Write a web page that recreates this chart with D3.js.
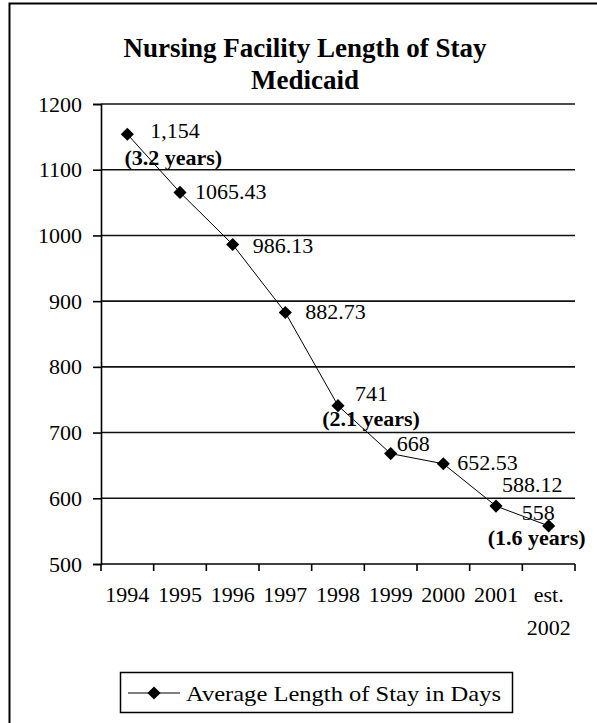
<!DOCTYPE html>
<html>
<head>
<meta charset="utf-8">
<script src="https://cdn.jsdelivr.net/npm/d3@7"></script>
<style>
  body { margin: 0; background: #fff; }
  svg { display: block; }
  svg text { font-family: "Liberation Serif", "DejaVu Serif", serif; fill: #000; }
</style>
</head>
<body>
<svg width="597" height="723"></svg>
<script>
// chart data
var years = ["1994", "1995", "1996", "1997", "1998", "1999", "2000", "2001", "est.\n2002"];
var stay = [1154, 1065.43, 986.13, 882.73, 741, 668, 652.53, 588.12, 558];
var valueLabels = ["1,154", "1065.43", "986.13", "882.73", "741", "668", "652.53", "588.12", "558"];
var yearNotes = [{ i: 0, text: "(3.2 years)" }, { i: 4, text: "(2.1 years)" }, { i: 8, text: "(1.6 years)" }];
var yTicks = [500, 600, 700, 800, 900, 1000, 1100, 1200];

var svg = d3.select("svg");

// frame (only left and top show in the crop)
svg.append("rect")
	.attr("x", 9.5).attr("y", 3.5)
	.attr("width", 700).attr("height", 800)
	.attr("fill", "none").attr("stroke", "#000").attr("stroke-width", 2);

// title
var title = svg.append("text")
	.attr("text-anchor", "middle")
	.attr("font-weight", "bold")
	.attr("font-size", 27);
title.append("tspan").attr("x", 305).attr("y", 57).text("Nursing Facility Length of Stay");
title.append("tspan").attr("x", 305).attr("y", 89).text("Medicaid");

var x = d3.scaleBand().domain(years).range([101, 575]);
var y = d3.scaleLinear().domain([500, 1200]).range([564, 104]);

// gridlines
svg.append("g")
	.selectAll("line")
	.data(yTicks.slice(1))
	.enter().append("line")
	.attr("x1", 101).attr("x2", 575)
	.attr("y1", function(d) { return y(d); })
	.attr("y2", function(d) { return y(d); })
	.attr("stroke", "#111").attr("stroke-width", 1.6);

// y axis
var yAxis = svg.append("g")
	.attr("transform", "translate(101,0)")
	.call(d3.axisLeft(y).tickValues(yTicks).tickSize(8).tickPadding(11).tickFormat(d3.format("d")));
yAxis.selectAll("text").attr("font-size", 22);
yAxis.selectAll("line").attr("stroke", "#000").attr("stroke-width", 1.6);
yAxis.select(".domain").attr("stroke", "#000").attr("stroke-width", 1.6);

// x axis, ticks on category boundaries
var xg = svg.append("g").attr("transform", "translate(0,564)");
xg.append("line").attr("x1", 101).attr("x2", 575)
	.attr("stroke", "#000").attr("stroke-width", 1.6);
var bounds = years.map(function(d) { return x(d); }).concat([x.range()[1]]);
xg.selectAll("line.tk")
	.data(bounds)
	.enter().append("line")
	.attr("class", "tk")
	.attr("x1", function(d) { return d; }).attr("x2", function(d) { return d; })
	.attr("y1", 0).attr("y2", 7)
	.attr("stroke", "#000").attr("stroke-width", 1.6);

xg.selectAll("text")
	.data(years)
	.enter().append("text")
	.attr("text-anchor", "middle")
	.attr("font-size", 22)
	.each(function(d) {
		var parts = d.split("\n");
		var t = d3.select(this);
		parts.forEach(function(p, k) {
			t.append("tspan")
				.attr("x", x(d) + x.bandwidth() / 2)
				.attr("y", 38 + k * 33)
				.text(p);
		});
	});

// series line
var cx = function(d, i) { return x(years[i]) + x.bandwidth() / 2; };
var line = d3.line()
	.x(function(d, i) { return cx(d, i); })
	.y(function(d) { return y(d); });

svg.append("path")
	.datum(stay)
	.attr("d", line)
	.attr("fill", "none")
	.attr("stroke", "#000")
	.attr("stroke-width", 1);

var diamond = d3.symbol().type(d3.symbolDiamond2).size(110);

svg.append("g")
	.selectAll("path")
	.data(stay)
	.enter().append("path")
	.attr("d", diamond)
	.attr("transform", function(d, i) { return "translate(" + cx(d, i) + "," + y(d) + ")"; })
	.attr("fill", "#000");

// value labels
var labelOffset = [[23, 4], [15, 7], [20, 8], [20, 7], [17, -5], [6, -3], [14, 6], [6, -14], [-27, -6]];
svg.append("g")
	.selectAll("text")
	.data(stay)
	.enter().append("text")
	.attr("font-size", 22)
	.attr("x", function(d, i) { return cx(d, i) + labelOffset[i][0]; })
	.attr("y", function(d, i) { return y(d) + labelOffset[i][1]; })
	.text(function(d, i) { return valueLabels[i]; });

// year-equivalent notes
var noteOffset = { 0: 31, 4: 20, 8: 19 };
svg.append("g")
	.selectAll("text")
	.data(yearNotes)
	.enter().append("text")
	.attr("text-anchor", "middle")
	.attr("font-size", 22).attr("font-weight", "bold")
	.attr("x", function(d) { return cx(stay[d.i], d.i) + (d.i == 0 ? 46 : (d.i == 8 ? -12 : 33)); })
	.attr("y", function(d) { return y(stay[d.i]) + noteOffset[d.i]; })
	.text(function(d) { return d.text; });

// legend
var lg = svg.append("g");
lg.append("rect")
	.attr("x", 120.5).attr("y", 672.5).attr("width", 392).attr("height", 40)
	.attr("fill", "#fff").attr("stroke", "#000").attr("stroke-width", 1.5);
lg.append("line")
	.attr("x1", 128).attr("x2", 180).attr("y1", 693).attr("y2", 693)
	.attr("stroke", "#000").attr("stroke-width", 1.2);
lg.append("path")
	.attr("d", diamond)
	.attr("transform", "translate(154,693)")
	.attr("fill", "#000");
lg.append("text")
	.attr("x", 186).attr("y", 701)
	.attr("font-size", 22)
	.attr("textLength", 315).attr("lengthAdjust", "spacingAndGlyphs")
	.text("Average Length of Stay in Days");
</script>
</body>
</html>
